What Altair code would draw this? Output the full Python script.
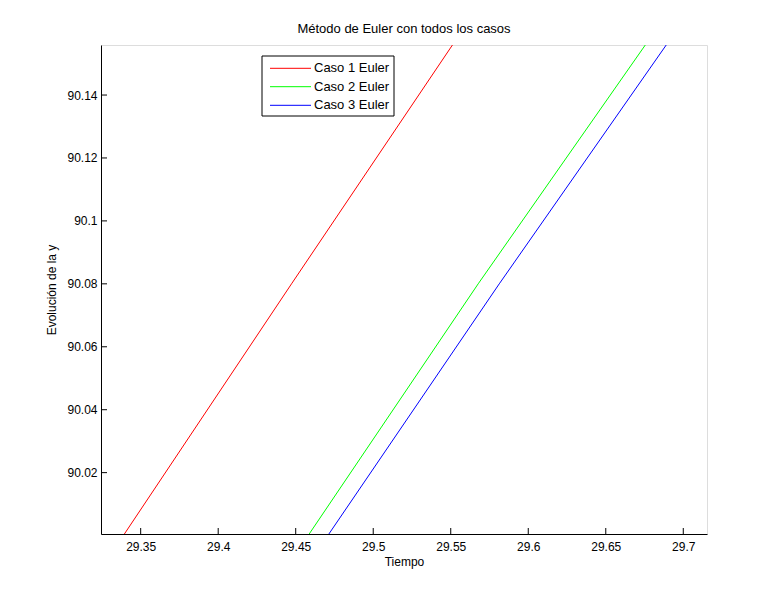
import altair as alt
import pandas as pd

series_names = ["Caso 1 Euler", "Caso 2 Euler", "Caso 3 Euler"]
series_colors = ["#ff0000", "#00ff00", "#0000ff"]

# y values sampled along each line
y_vals = [90.0, 90.08, 90.1559]
caso1_x = [29.3388, 29.4473, 29.5511]
caso2_x = [29.4580, 29.5677, 29.6755]
caso3_x = [29.4707, 29.5813, 29.6890]

x_ticks = [29.35, 29.4, 29.45, 29.5, 29.55, 29.6, 29.65, 29.7]
y_ticks = [90.02, 90.04, 90.06, 90.08, 90.1, 90.12, 90.14]

x_domain = [29.3244, 29.7153]
y_domain = [90.0005, 90.1559]

W, H = 606, 489
FONT = "Liberation Sans"

rows = []
for name, xs in zip(series_names, [caso1_x, caso2_x, caso3_x]):
    for i, (xv, yv) in enumerate(zip(xs, y_vals)):
        rows.append({"serie": name, "t": xv, "y": yv, "orden": i})
df = pd.DataFrame(rows)

xscale = alt.Scale(domain=x_domain, nice=False, zero=False)
yscale = alt.Scale(domain=y_domain, nice=False, zero=False)
cscale = alt.Scale(domain=series_names, range=series_colors)

lines = alt.Chart(df).mark_line(strokeWidth=1, clip=True).encode(
    x=alt.X("t:Q", scale=xscale, title="Tiempo",
            axis=alt.Axis(values=x_ticks, ticks=False, grid=False, labelPadding=7,
                          domainColor="black", labelColor="black", titleColor="black",
                          labelFontSize=12, titleFontSize=12, titleFontWeight="normal",
                          labelFont=FONT, titleFont=FONT, titlePadding=4,
                          labelExpr="format(datum.value, '.4~f')")),
    y=alt.Y("y:Q", scale=yscale, title="Evolución de la y",
            axis=alt.Axis(values=y_ticks, ticks=False, grid=False, labelPadding=4,
                          domainColor="black", labelColor="black", titleColor="black",
                          labelFontSize=12, titleFontSize=12, titleFontWeight="normal",
                          labelFont=FONT, titleFont=FONT, titlePadding=8,
                          labelExpr="format(datum.value, '.4~f')")),
    color=alt.Color("serie:N", scale=cscale, legend=None),
    order="orden:Q",
)

xt = pd.DataFrame({"v": x_ticks})
yt = pd.DataFrame({"v": y_ticks})

xtick_marks = alt.Chart(xt).mark_rule(color="black", strokeWidth=1).encode(
    x=alt.X("v:Q", scale=xscale), y=alt.value(H), y2=alt.value(H - 6))
ytick_marks = alt.Chart(yt).mark_rule(color="black", strokeWidth=1).encode(
    y=alt.Y("v:Q", scale=yscale), x=alt.value(0), x2=alt.value(6))

# manual legend box (MATLAB style)
box = alt.Chart(pd.DataFrame({"a": [0]})).mark_rect(
    fill="white", stroke="black", strokeWidth=1).encode(
    x=alt.value(161), x2=alt.value(293), y=alt.value(11), y2=alt.value(71))

legend_layers = [box]
row_y = [23.3, 41.7, 60.3]
for name, col, ry in zip(series_names, series_colors, row_y):
    d = pd.DataFrame({"serie": [name]})
    legend_layers.append(alt.Chart(d).mark_rule(color=col, strokeWidth=1).encode(
        x=alt.value(169), x2=alt.value(210), y=alt.value(ry)))
    legend_layers.append(alt.Chart(d).mark_text(
        align="left", baseline="middle", font=FONT, fontSize=13, color="black").encode(
        x=alt.value(213), y=alt.value(ry), text="serie:N"))

chart = alt.layer(lines, xtick_marks, ytick_marks, *legend_layers).properties(
    width=W, height=H,
    title=alt.TitleParams("Método de Euler con todos los casos", fontSize=13,
                          font=FONT, fontWeight="normal", color="black",
                          anchor="middle", offset=9),
    autosize=alt.AutoSizeParams(type="none"),
    padding={"left": 93, "top": 37, "right": 65, "bottom": 58},
).configure_view(stroke=None).configure(background="white")

chart.save("out.html", embed_options={"renderer": "svg", "actions": False})
